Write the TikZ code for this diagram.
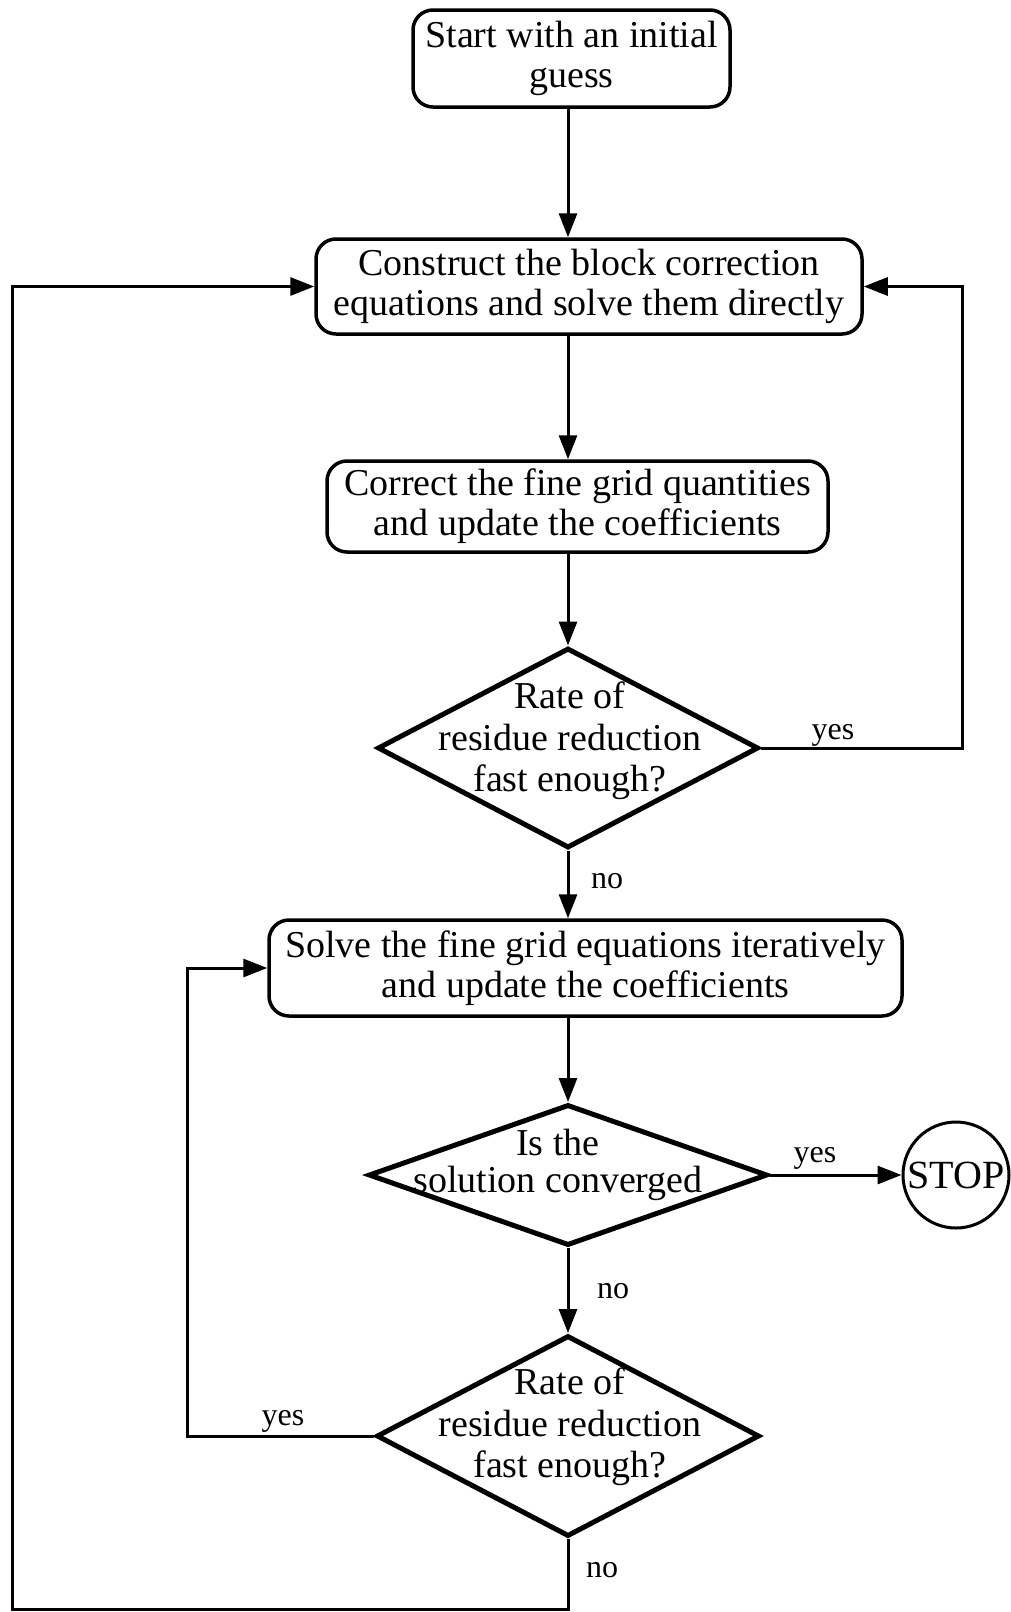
\documentclass[tikz,border=0pt]{standalone}
\usepackage{fontspec}
\setmainfont{Liberation Serif}
\usetikzlibrary{shapes.geometric,arrows.meta}
\begin{document}
\begin{tikzpicture}[x=1pt,y=-1pt,
  box/.style={draw, line width=3.5pt, rounded corners=20pt, inner sep=0pt, align=center, font=\fontsize{38}{40}\selectfont},
  dia/.style={draw, diamond, line width=5pt, inner sep=0pt},
  dtext/.style={align=center, inner sep=0pt, font=\fontsize{38}{41.5}\selectfont},
  lab/.style={inner sep=0pt, font=\fontsize{32}{34}\selectfont},
  conn/.style={line width=3pt},
  arr/.style={conn, -{Triangle[length=24pt,width=18pt]}},
]
\fill[white] (0,0) rectangle (1011,1612);
\useasboundingbox (0,0) rectangle (1011,1612);
\coordinate (ax) at (568,0);
\coordinate (r1) at (962,0);
\coordinate (l2) at (187,0);
\coordinate (bot) at (12,1609);

\node[box, minimum width=317pt, minimum height=97pt] (start) at (571.5,58.5) {Start with an initial\\guess};
\node[box, minimum width=546pt, minimum height=95pt] (construct) at (589,286.5) {Construct the block correction\\equations and solve them directly};
\node[box, minimum width=501pt, minimum height=91pt] (correct) at (577.5,506.5) {Correct the fine grid quantities\\and update the coefficients};
\node[dia, minimum width=381pt, minimum height=200pt] (d1) at (568,748) {};
\node[dtext] (d1t) at (570,741) {Rate of\\residue reduction\\fast enough?};
\node[box, minimum width=633pt, minimum height=96pt] (solve) at (585.5,968) {Solve the fine grid equations iteratively\\and update the coefficients};
\node[dia, minimum width=399pt, minimum height=141pt] (d2) at (568,1175) {};
\node[dtext, font=\fontsize{38}{37}\selectfont] (d2t) at (558,1165) {Is the\\solution converged};
\node[draw, circle, line width=3pt, minimum size=106pt, inner sep=0pt, font=\fontsize{40}{40}\selectfont] (stop) at (956,1175) {STOP};
\node[dia, minimum width=383pt, minimum height=201pt] (d3) at (568,1436) {};
\node[dtext] (d3t) at (570,1427) {Rate of\\residue reduction\\fast enough?};

\draw[arr] (start.south -| ax) -- (construct.north -| ax);
\draw[arr] (construct.south -| ax) -- (correct.north -| ax);
\draw[arr] (correct.south -| ax) -- (d1.north);
\draw[arr] (d1.south) -- (solve.north -| ax);
\draw[arr] (solve.south -| ax) -- (d2.north);
\draw[arr] (d2.east) -- (stop.west);
\draw[arr] (d2.south) -- (d3.north);
\draw[arr] (d1.east) -- (d1.east -| r1) -- (construct.east -| r1) -- (construct.east);
\draw[arr] (d3.west) -- (d3.west -| l2) -- (solve.west -| l2) -- (solve.west);
\draw[arr] (d3.south) -- (d3.south |- bot) -- (bot) -- (construct.west -| bot) -- (construct.west);

\node[lab] (y1) at (833,735) {yes};
\node[lab] (n1) at (607,881) {no};
\node[lab] (y2) at (815,1158) {yes};
\node[lab] (n2) at (613,1291) {no};
\node[lab] (y3) at (283,1421) {yes};
\node[lab] (n3) at (602,1570) {no};
\end{tikzpicture}
\end{document}
